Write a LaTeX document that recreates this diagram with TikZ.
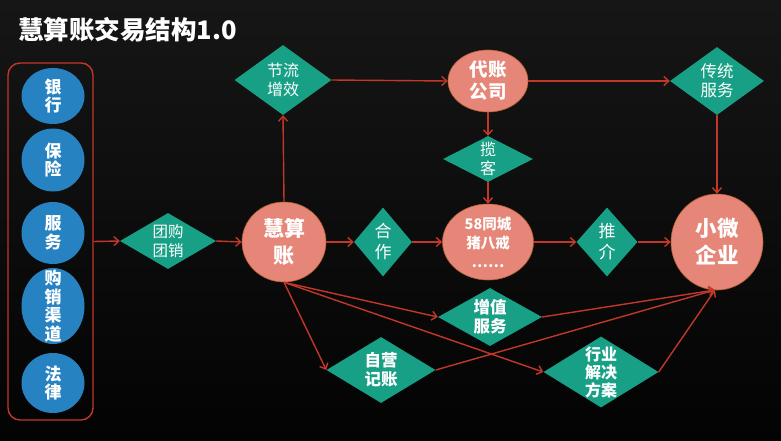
\documentclass[tikz,border=0pt]{standalone}
\usepackage{fontspec}
\setmainfont{Noto Sans CJK SC}
\usetikzlibrary{shapes.geometric,arrows.meta}
\definecolor{teal1}{RGB}{23,160,133}
\definecolor{salmon}{RGB}{230,134,120}
\definecolor{salmonb}{RGB}{180,95,45}
\definecolor{blue1}{RGB}{38,130,193}
\definecolor{arr}{RGB}{195,55,40}
\tikzset{
  dia/.style={shape=diamond, fill=teal1, inner sep=0pt},
  ell/.style={shape=ellipse, fill=salmon, draw=salmonb, line width=0.6pt, inner sep=0pt},
  bell/.style={shape=ellipse, fill=blue1, inner sep=0pt},
  txt/.style={text=white, align=center, inner sep=0pt},
  con/.style={draw=arr, line width=1.4pt, -{Straight Barb[length=5pt,width=9pt,line width=1.4pt]}},
}
\newcommand\mydia[6]{\node[dia, minimum width=#3pt, minimum height=#4pt] (#1) at (#2) {};
  \node[txt, font=#6] at (#1) {#5};}
\newcommand\myell[6]{\node[ell, minimum width=#3pt, minimum height=#4pt] (#1) at (#2) {};
  \node[txt, font=#6] at (#1) {#5};}
\newcommand\mybell[5]{\node[bell, minimum width=#3pt, minimum height=#4pt] (#1) at (#2) {};
  \node[txt, font=\bfseries\fontsize{17}{18.5}\selectfont] at (#1) {#5};}
\begin{document}
\begin{tikzpicture}[x=1pt,y=-1pt]
\shade[top color={rgb,255:red,22;green,22;blue,22}, bottom color={rgb,255:red,3;green,3;blue,3}] (0,0) rectangle (781,441);
\useasboundingbox (0,0) rectangle (781,441);
\node[txt, anchor=west, font=\bfseries\fontsize{25.5}{27}\selectfont] (title) at (18,30) {慧算账交易结构1.0};
% left group
\node[draw=arr, line width=1.4pt, rounded corners=12pt, minimum width=85pt, minimum height=357pt, inner sep=0pt] (grp) at (50.5,241.5) {};
\mybell{b1}{53,96}{63}{56}{银\\行}
\mybell{b2}{53,160}{63}{63}{保\\险}
\mybell{b3}{53,233}{63}{62}{服\\务}
\mybell{b4}{53,306}{63}{76}{购\\销\\渠\\道}
\mybell{b5}{53,383}{63}{60}{法\\律}
% nodes
\mydia{tg}{168,241}{96}{56}{团购\\团销}{\fontsize{15.5}{19}\selectfont}
\myell{hsz}{284,242}{84}{80}{慧算\\账}{\bfseries\fontsize{21}{27}\selectfont}
\mydia{jl}{283,80}{97}{70}{节流\\增效}{\fontsize{16}{19}\selectfont}
\myell{dz}{488,81}{80}{62}{代账\\公司}{\bfseries\fontsize{18.5}{22}\selectfont}
\mydia{ct}{717,81}{94}{68}{传统\\服务}{\fontsize{16.5}{19}\selectfont}
\mydia{lk}{488,159}{90}{46}{揽\\客}{\fontsize{16}{19}\selectfont}
\mydia{hz}{383,242}{58}{69}{合\\作}{\fontsize{17}{21}\selectfont}
\myell{wb}{488,242}{91}{76}{58同城\\猪八戒\\……}{\bfseries\fontsize{14.5}{19}\selectfont}
\mydia{tj}{607,242}{61}{69}{推\\介}{\fontsize{17}{21}\selectfont}
\myell{xw}{717,242}{92}{96}{小微\\企业}{\bfseries\fontsize{21.5}{27}\selectfont}
\mydia{zz}{490,317}{104}{58}{增值\\服务}{\bfseries\fontsize{16.5}{19}\selectfont}
\mydia{zy}{381,370}{109}{66}{自营\\记账}{\bfseries\fontsize{16.5}{19}\selectfont}
\mydia{hy}{601,372}{115}{71}{行业\\解决\\方案}{\bfseries\fontsize{16}{18}\selectfont}
\coordinate (xwin) at (715,290);
% connectors
\draw[con] (grp.east) -- (tg.west);
\draw[con] (tg.east) -- (hsz.west);
\draw[con] (hsz.north) -- (jl.south);
\draw[con] (jl.east) -- (dz.west);
\draw[con] (dz.east) -- (ct.west);
\draw[con] (ct.south) -- (xw.north);
\draw[con] (dz.south) -- (lk.north);
\draw[con] (lk.south) -- (wb.north);
\draw[con] (hsz.east) -- (hz.west);
\draw[con] (hz.east) -- (wb.west);
\draw[con] (wb.east) -- (tj.west);
\draw[con] (tj.east) -- (xw.west);
\draw[con] (hsz.south) -- (zz.west);
\draw[con] (hsz.south) -- (zy.west);
\draw[con] (hsz.south) -- (hy.west);
\draw[con] (zz.east) -- (xwin);
\draw[con] (zy.east) -- (xwin);
\draw[con] (hy.east) -- (xwin);
\end{tikzpicture}
\end{document}
